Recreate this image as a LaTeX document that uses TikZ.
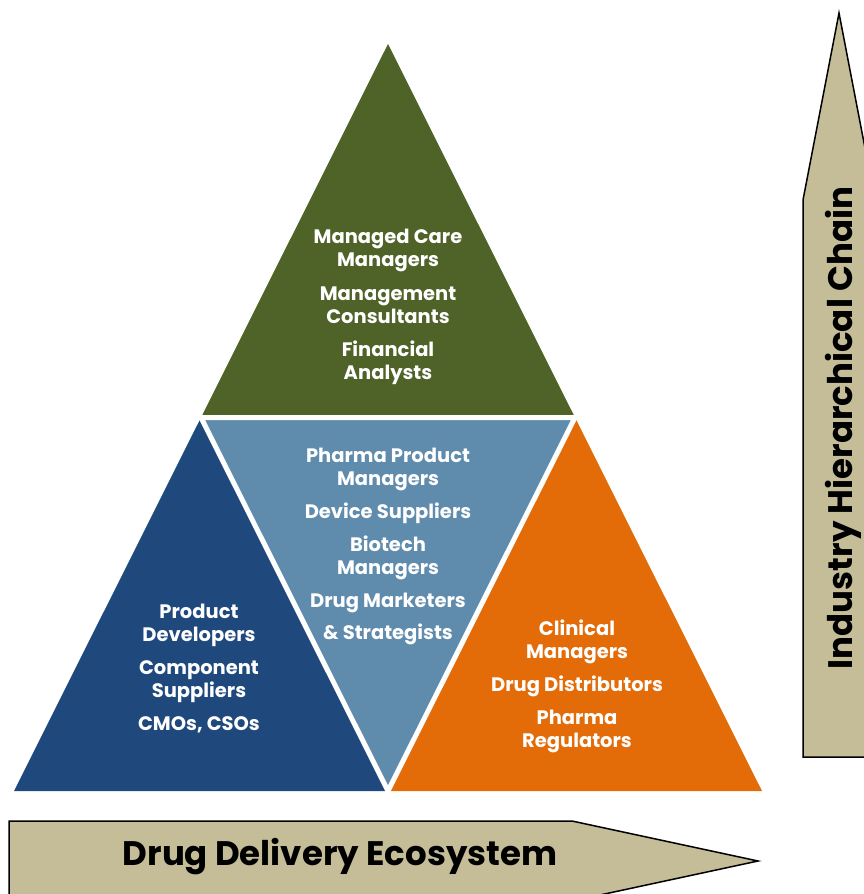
\documentclass[tikz,border=0pt]{standalone}
\usepackage{fontspec}
\setmainfont{Poppins}
\usepackage{xcolor}
\usetikzlibrary{positioning}
\definecolor{topgreen}{HTML}{4F6228}
\definecolor{midblue}{HTML}{5F8BAD}
\definecolor{darkblue}{HTML}{1F497D}
\definecolor{orangefill}{HTML}{E36C09}
\definecolor{tanfill}{HTML}{C4BD97}
\tikzset{%
	every tri label/.style={
		text=white,
		align=center,
		font=\bfseries\fontsize{19.5}{23}\selectfont
	},
	big arrow/.style={
		draw=black,
		fill=tanfill,
		line width=1.5pt,
		line join=miter
	},
	arrow text/.style={
		font=\bfseries\fontsize{34}{40}\selectfont
	},
}

\begin{document}
\begin{tikzpicture}[x=1pt, y=-1pt]
			\useasboundingbox (0,0) rectangle (864,894);
			\clip (0,0) rectangle (864,894);
			% corners of the big triangle and the midpoints
			\coordinate (apex) at (388,44);
			\coordinate (bl) at (14,791);
			\coordinate (br) at (762,791);
			\coordinate (ml) at (201,417.5);
			\coordinate (mr) at (575,417.5);
			\coordinate (mb) at (388,791);
			% four triangles
			\fill[topgreen] (apex) -- (ml) -- (mr) -- cycle;
			\fill[midblue] (ml) -- (mr) -- (mb) -- cycle;
			\fill[darkblue] (ml) -- (bl) -- (mb) -- cycle;
			\fill[orangefill] (mr) -- (mb) -- (br) -- cycle;
			\draw[white, line width=5pt, line join=miter] (ml) -- (mr) -- (mb) -- cycle;
			% arrows
			\draw[big arrow] (803,757) -- (803,200) -- (839,13) -- (875,200) -- (875,757) -- cycle;
			\draw[big arrow] (9,821) -- (572,821) -- (758,861) -- (572,901) -- (9,901) -- cycle;
			\node[arrow text, rotate=90] (chain) at (843,428) {Industry Hierarchical Chain};
			\node[arrow text] (eco) at (340,857) {Drug Delivery Ecosystem};
			% labels
			\node[every tri label] (topLbl) at (388,306.5) {Managed Care\\Managers\\[11pt]Management\\Consultants\\[10pt]Financial\\Analysts};
			\node[every tri label] (midLbl) at (388,546) {Pharma Product\\Managers\\[10pt]Device Suppliers\\[10pt]Biotech\\Managers\\[10pt]Drug Marketers\\[9pt]\& Strategists};
			\node[every tri label] (leftLbl) at (199,669) {Product\\Developers\\[10pt]Component\\Suppliers\\[10pt]CMOs, CSOs};
			\node[every tri label] (rightLbl) at (577,686) {Clinical\\Managers\\[10pt]Drug Distributors\\[10pt]Pharma\\Regulators};
		\end{tikzpicture}
\end{document}
